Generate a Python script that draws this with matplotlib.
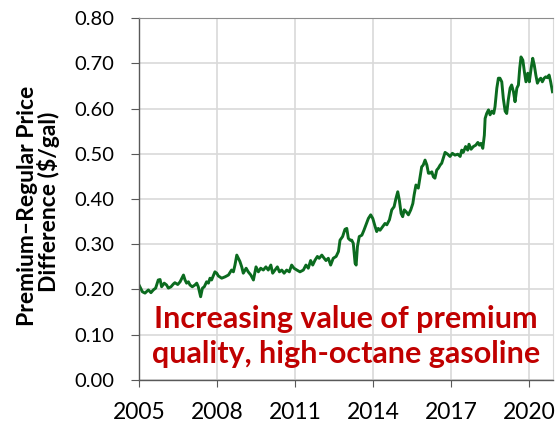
import matplotlib.pyplot as plt

# (decimal year, $/gal)
years = [
    2005.00, 2005.13, 2005.23, 2005.36, 2005.46, 2005.55, 2005.64, 2005.74, 2005.81, 2005.87,
    2005.97, 2006.06, 2006.13, 2006.23, 2006.32, 2006.38, 2006.49, 2006.58, 2006.71, 2006.77,
    2006.83, 2006.90, 2006.96, 2007.05, 2007.15, 2007.22, 2007.28, 2007.37, 2007.44, 2007.51,
    2007.60, 2007.67, 2007.73, 2007.79, 2007.92, 2007.99, 2008.05, 2008.18, 2008.31, 2008.44,
    2008.56, 2008.63, 2008.69, 2008.76, 2008.82,
    2008.88, 2008.95, 2009.01, 2009.12, 2009.20, 2009.30, 2009.40, 2009.50, 2009.59, 2009.68,
    2009.78, 2009.88, 2009.97, 2010.07, 2010.14, 2010.23, 2010.32, 2010.40, 2010.49, 2010.58,
    2010.68, 2010.78, 2010.87, 2010.96, 2011.07, 2011.19, 2011.32, 2011.42, 2011.51, 2011.60,
    2011.68, 2011.77, 2011.86, 2011.93, 2012.03, 2012.12, 2012.19, 2012.28, 2012.37, 2012.47,
    2012.58, 2012.67,
    2012.73, 2012.83, 2012.92, 2012.99, 2013.05, 2013.12, 2013.18, 2013.24, 2013.31, 2013.35,
    2013.40, 2013.47, 2013.57, 2013.65, 2013.73, 2013.82, 2013.91, 2013.99, 2014.08, 2014.14,
    2014.20, 2014.27, 2014.37, 2014.46, 2014.53, 2014.63, 2014.72, 2014.81, 2014.88, 2014.95,
    2015.01, 2015.08, 2015.14, 2015.20, 2015.27, 2015.36, 2015.45, 2015.53, 2015.58, 2015.65,
    2015.74, 2015.81, 2015.87, 2015.93, 2016.00, 2016.07, 2016.13, 2016.19, 2016.26, 2016.32,
    2016.38, 2016.45, 2016.51, 2016.58, 2016.64, 2016.70,
    2016.77, 2016.87, 2016.96, 2017.05, 2017.15, 2017.26, 2017.35, 2017.41, 2017.47, 2017.56,
    2017.64, 2017.69, 2017.77, 2017.86, 2017.95, 2018.03, 2018.09, 2018.15, 2018.22, 2018.28,
    2018.31, 2018.37, 2018.44, 2018.50, 2018.57, 2018.64, 2018.69, 2018.76, 2018.82, 2018.88,
    2018.95, 2019.01, 2019.08, 2019.14, 2019.20, 2019.27, 2019.33, 2019.40, 2019.46, 2019.53,
    2019.59, 2019.64, 2019.69, 2019.76, 2019.82, 2019.88, 2019.95, 2020.01, 2020.08, 2020.14,
    2020.20, 2020.26, 2020.32, 2020.38, 2020.45, 2020.51, 2020.58, 2020.64, 2020.70, 2020.77,
    2020.83, 2020.90,
]
price_diff = [
    0.210, 0.195, 0.192, 0.199, 0.193, 0.199, 0.203, 0.221, 0.222, 0.206,
    0.214, 0.210, 0.203, 0.206, 0.212, 0.215, 0.211, 0.217, 0.232, 0.221,
    0.214, 0.217, 0.210, 0.206, 0.210, 0.214, 0.206, 0.184, 0.203, 0.206,
    0.217, 0.214, 0.225, 0.221, 0.239, 0.236, 0.230, 0.225, 0.228, 0.232,
    0.243, 0.239, 0.254, 0.276, 0.269,
    0.262, 0.250, 0.236, 0.247, 0.239, 0.232, 0.221, 0.250, 0.239, 0.247,
    0.243, 0.250, 0.243, 0.254, 0.236, 0.243, 0.250, 0.239, 0.243, 0.236,
    0.243, 0.239, 0.254, 0.247, 0.243, 0.239, 0.243, 0.254, 0.247, 0.264,
    0.254, 0.265, 0.273, 0.269, 0.276, 0.269, 0.264, 0.269, 0.254, 0.269,
    0.273, 0.284,
    0.309, 0.317, 0.333, 0.335, 0.313, 0.309, 0.309, 0.302, 0.258, 0.254,
    0.295, 0.317, 0.320, 0.331, 0.343, 0.357, 0.365, 0.357, 0.339, 0.328,
    0.335, 0.331, 0.339, 0.346, 0.343, 0.354, 0.376, 0.383, 0.401, 0.416,
    0.398, 0.368, 0.361, 0.376, 0.372, 0.365, 0.376, 0.390, 0.409, 0.431,
    0.424, 0.449, 0.471, 0.475, 0.486, 0.475, 0.457, 0.457, 0.460, 0.449,
    0.446, 0.464, 0.468, 0.475, 0.479, 0.490,
    0.503, 0.499, 0.494, 0.501, 0.497, 0.499, 0.494, 0.508, 0.503, 0.516,
    0.508, 0.521, 0.510, 0.516, 0.519, 0.525, 0.519, 0.523, 0.512, 0.541,
    0.578, 0.589, 0.597, 0.586, 0.594, 0.589, 0.604, 0.645, 0.667, 0.667,
    0.659, 0.622, 0.594, 0.589, 0.619, 0.645, 0.652, 0.637, 0.615, 0.645,
    0.652, 0.689, 0.714, 0.707, 0.681, 0.659, 0.678, 0.659, 0.689, 0.711,
    0.696, 0.674, 0.656, 0.663, 0.667, 0.659, 0.667, 0.670, 0.668, 0.674,
    0.659, 0.637,
]

x_ticks = [2005, 2008, 2011, 2014, 2017, 2020]
y_ticks = [0.0, 0.1, 0.2, 0.3, 0.4, 0.5, 0.6, 0.7, 0.8]
ylabel_lines = ["Premium\u2013Regular Price", "Difference ($/gal)"]
note_lines = ["Increasing value of premium", "quality, high-octane gasoline"]


def main():
    plt.rcParams['font.family'] = ['Lato', 'DejaVu Sans']
    fig = plt.figure(figsize=(5.56, 4.23), dpi=100, facecolor='white')
    ax = fig.add_axes([0.25, 0.1017, 0.7446, 0.8557])

    ax.plot(years, price_diff, color='#0b6b1f', linewidth=2.1, solid_joinstyle='round')

    ax.set_xlim(2005, 2020.92)
    ax.set_ylim(0, 0.8)
    ax.set_xticks(x_ticks)
    ax.set_yticks(y_ticks)
    ax.set_yticklabels(['%.2f' % v for v in y_ticks])
    ax.tick_params(axis='y', labelsize=14.5, direction='out', length=5.8, color='#595959', pad=12)
    ax.tick_params(axis='x', labelsize=16.5, direction='out', length=5, color='#595959', pad=11)

    ax.grid(True, color='#d9d9d9', linewidth=1.2)
    ax.set_axisbelow(True)
    for side in ['left', 'bottom']:
        ax.spines[side].set_color('#595959')
        ax.spines[side].set_linewidth(1.0)
    ax.spines['top'].set_color('#8c8c8c')
    ax.spines['right'].set_color('#d9d9d9')

    # two-line y label, placed like the original
    fig.text(28 / 556, 1 - 206 / 423, ylabel_lines[0], rotation=90, ha='center', va='center',
             fontsize=16.5, fontweight='bold')
    fig.text(49 / 556, 1 - 202 / 423, ylabel_lines[1], rotation=90, ha='center', va='center',
             fontsize=16.5, fontweight='bold')

    # red annotation, one text per line so the baselines can be set
    ax.text(0.5, 0.1436, note_lines[0], transform=ax.transAxes, ha='center', va='baseline',
            fontsize=22, fontweight='bold', color='#c00000')
    ax.text(0.5, 0.047, note_lines[1], transform=ax.transAxes, ha='center', va='baseline',
            fontsize=22, fontweight='bold', color='#c00000')

    fig.savefig('out.png', dpi=100)


if __name__ == '__main__':
    main()
